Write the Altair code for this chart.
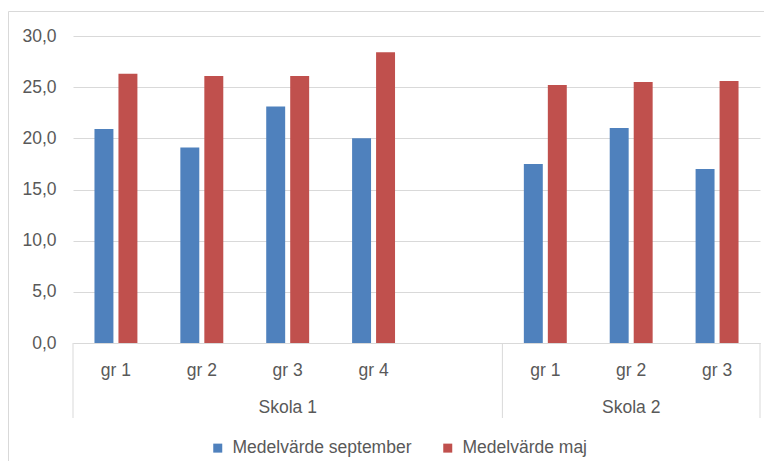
import altair as alt
import pandas as pd

# ---- data ----
schools = ["Skola 1", "Skola 1", "Skola 1", "Skola 1", "Skola 2", "Skola 2", "Skola 2"]
groups = ["gr 1", "gr 2", "gr 3", "gr 4", "gr 1", "gr 2", "gr 3"]
september = [20.9, 19.1, 23.1, 20.0, 17.5, 21.0, 17.0]
maj = [26.3, 26.1, 26.1, 28.4, 25.2, 25.5, 25.6]
series_names = ["Medelvärde september", "Medelvärde maj"]
colors = ["#4F81BD", "#C0504D"]
y_ticks = [0, 5, 10, 15, 20, 25, 30]

# category slots (Skola 1 has an empty fifth slot)
slot_order = ["Skola 1|gr 1", "Skola 1|gr 2", "Skola 1|gr 3", "Skola 1|gr 4", "Skola 1| ",
              "Skola 2|gr 1", "Skola 2|gr 2", "Skola 2|gr 3"]
school_names = ["Skola 1", "Skola 2"]
school_start = [0, 5]
school_end = [5, 8]
separators = [0, 5, 8]

FONT = "Liberation Sans"
FS = 17.5
TXT = "#595959"
GRID = "#D9D9D9"
W, H = 687, 307

rows = []
for s, g, a, b in zip(schools, groups, september, maj):
    rows.append({"slot": f"{s}|{g}", "series": series_names[0], "value": a})
    rows.append({"slot": f"{s}|{g}", "series": series_names[1], "value": b})
df = pd.DataFrame(rows)

bars = alt.Chart(df).mark_bar().encode(
    x=alt.X("slot:N",
            scale=alt.Scale(domain=slot_order, paddingInner=0.5, paddingOuter=0.25),
            sort=slot_order,
            axis=alt.Axis(title=None, labelExpr="split(datum.value, '|')[1]",
                          ticks=False, domain=True, domainColor=GRID, domainWidth=1,
                          labelAngle=0, labelPadding=27, labelBaseline="middle",
                          labelFont=FONT, labelFontSize=FS, labelColor=TXT, grid=False)),
    xOffset=alt.XOffset("series:N", sort=series_names,
                        scale=alt.Scale(domain=series_names, paddingInner=0.21, paddingOuter=0)),
    y=alt.Y("value:Q",
            scale=alt.Scale(domain=[0, 30], nice=False),
            axis=alt.Axis(title=None, values=y_ticks,
                          labelExpr="replace(format(datum.value, '.1f'), '.', ',')",
                          ticks=False, domain=False, grid=True, gridColor=GRID, gridWidth=1,
                          labelPadding=17, labelFont=FONT, labelFontSize=FS, labelColor=TXT)),
    color=alt.Color("series:N", sort=series_names,
                    scale=alt.Scale(domain=series_names, range=colors),
                    legend=alt.Legend(title=None, orient="none", direction="horizontal",
                                      legendX=136, legendY=403, symbolType="square",
                                      symbolSize=81, symbolStrokeWidth=0, labelFont=FONT,
                                      labelFontSize=FS, labelColor=TXT, labelOffset=6,
                                      labelLimit=400, columnPadding=27, padding=0)),
)

sep_df = pd.DataFrame({"pos": separators})
seps = alt.Chart(sep_df).mark_rule(color=GRID, strokeWidth=1).encode(
    x=alt.X("pos:Q", scale=alt.Scale(domain=[0, 8], nice=False, zero=False), axis=None),
    y=alt.value(H),
    y2=alt.value(382),
)

grp_df = pd.DataFrame({"school": school_names, "start": school_start, "end": school_end})
grp_df["mid"] = (grp_df["start"] + grp_df["end"]) / 2
grp = alt.Chart(grp_df).mark_text(font=FONT, fontSize=FS, color=TXT, baseline="middle").encode(
    x=alt.X("mid:Q", scale=alt.Scale(domain=[0, 8], nice=False, zero=False), axis=None),
    y=alt.value(372),
    text="school:N",
)

border = alt.Chart(pd.DataFrame({"a": [0]})).mark_rect(
    fillOpacity=0, stroke=GRID, strokeWidth=1).encode(
    x=alt.value(-64.5), x2=alt.value(900), y=alt.value(-24.5), y2=alt.value(700))

chart = alt.layer(border, bars, seps, grp).resolve_scale(x="independent").properties(
    width=W, height=H,
    autosize=alt.AutoSizeParams(type="none"),
    padding={"left": 65, "top": 28, "right": 4, "bottom": 118},
).configure_view(stroke=None)

chart.save("out.html", embed_options={"renderer": "svg", "actions": False})
